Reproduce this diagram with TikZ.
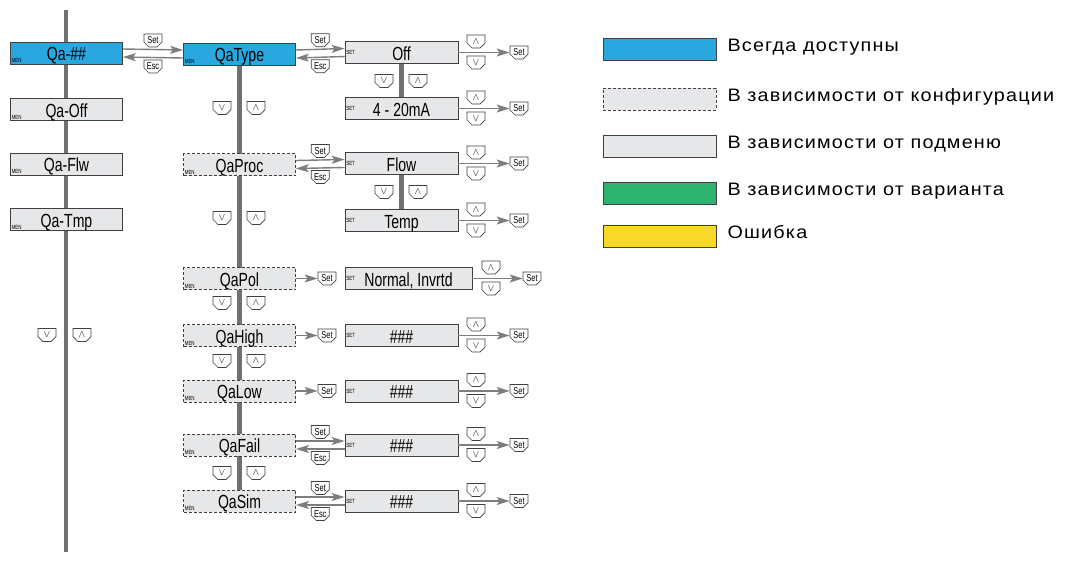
\documentclass[tikz,border=0pt]{standalone}
\usepackage{fontspec}
\setmainfont{Liberation Sans}
\newfontfamily\lcdfont[FakeStretch=0.74]{Liberation Sans}
\newfontfamily\legfont[FakeStretch=1.1,LetterSpace=6.5]{Liberation Sans}
\usetikzlibrary{arrows.meta,shapes.misc,positioning,backgrounds,calc}

\definecolor{qblue}{RGB}{41,168,224}
\definecolor{qgray}{RGB}{230,231,232}
\definecolor{qgreen}{RGB}{45,179,111}
\definecolor{qyellow}{RGB}{248,217,40}
\definecolor{qbar}{RGB}{112,113,117}
\definecolor{qline}{RGB}{64,64,66}
\definecolor{qarrow}{RGB}{125,125,128}

\begin{document}
\begin{tikzpicture}
        [x=1pt,y=-1pt,
         lcd/.style={draw=qline,fill=qgray,line width=0.8pt,minimum height=22pt,inner sep=0pt,
           text height=15pt,text depth=0pt,font=\lcdfont\fontsize{19}{19}\selectfont},
         tag/.style={font=\lcdfont\fontsize{6}{6}\selectfont,inner sep=1.5pt,text height=,text depth=},
         menu/.style={lcd,minimum width=112pt,label={[tag,anchor=south west]south west:MEN}},
         optional/.style={menu,dash pattern=on 3pt off 2pt},
         value/.style={lcd,minimum width=113pt,label={[tag,anchor=west]west:SET}},
         key/.style={draw=qline,fill=white,line width=0.7pt,chamfered rectangle,
           chamfered rectangle corners={south west,south east},chamfered rectangle sep=2.5pt,
           minimum width=18pt,minimum height=13pt,inner sep=0pt,
           font=\lcdfont\fontsize{10}{10}\selectfont},
         swatch/.style={draw=qline,line width=0.8pt,minimum width=113pt,minimum height=22pt},
         legtext/.style={inner sep=0pt,text height=12.5pt,text depth=7.5pt,
           font=\legfont\fontsize{18}{20}\selectfont},
         bar/.style={qbar,line width=4.5pt},
         link/.style={qarrow,line width=1.4pt,-{Stealth[length=13pt,width=8pt,inset=3pt]}}]
        \useasboundingbox (0,0) rectangle (1068,560);

        % left column
        \node[menu,fill=qblue] (qaall) at (66.5,53) {Qa-\#\#};
        \node[menu] (qaoff) at (66.5,109.5) {Qa-Off};
        \node[menu] (qaflw) at (66.5,164) {Qa-Flw};
        \node[menu] (qatmp) at (66.5,219.5) {Qa-Tmp};
        \coordinate (top) at (66,10);
        \coordinate (bottom) at (66,552);

        % middle column
        \node[menu,fill=qblue] (qatype) at (239.5,54) {QaType};
        \node[optional] (qaproc) at (239.5,164.5) {QaProc};
        \node[optional] (qapol) at (239.5,278.5) {QaPol};
        \node[optional] (qahigh) at (239.5,335.5) {QaHigh};
        \node[optional] (qalow) at (239.5,391) {QaLow};
        \node[optional] (qafail) at (239.5,445) {QaFail};
        \node[optional] (qasim) at (239.5,501) {QaSim};

        % values, each with its up/down keys and Set
        \foreach \v/\y/\t in {off/52.5/Off,ma/108.5/4 - 20mA,flow/163.5/Flow,temp/220.5/Temp,
                             high/335.5/\#\#\#,low/391/\#\#\#,fail/445/\#\#\#,sim/501/\#\#\#}
        {
          \node[value] (\v) at (401.5,\y) {\t};
          \node[key] (up\v) at (476,\y-11) {$\wedge$};
          \node[key] (dn\v) at (476,\y+10) {$\vee$};
          \node[key] (ok\v) at (519,\y) {Set};
          \draw[link] (\v.east) -- (ok\v.west);
        }
        \node[value,minimum width=127pt] (pol) at (408.5,278.5) {Normal, Invrtd};
        \node[key] (uppol) at (491,267.5) {$\wedge$};
        \node[key] (dnpol) at (491,288.5) {$\vee$};
        \node[key] (okpol) at (532,278.5) {Set};
        \draw[link] (pol.east) -- (okpol.west);

        % Set / Esc between levels
        \foreach \a/\b in {qaall/qatype,qatype/off,qaproc/flow,qafail/fail,qasim/sim}
        {
          \draw[link] ([yshift=4pt]\a.east) -- ([yshift=4pt]\b.west);
          \draw[link] ([yshift=-4pt]\b.west) -- ([yshift=-4pt]\a.east);
          \node[key] (set\a) at ($(\a.east)!0.5!(\b.west) + (0,-13)$) {Set};
          \node[key] (esc\a) at ($(\a.east)!0.5!(\b.west) + (0,13)$) {Esc};
        }

        % Set only
        \foreach \a in {qapol,qahigh,qalow}
        {
          \node[key] (set\a) at (327,0 |- \a) {Set};
          \draw[link] (\a.east) -- (set\a.west);
        }

        % scroll keys beside the bars
        \node[key] (dnall) at (47,335) {$\vee$};
        \node[key] (upall) at (82,335) {$\wedge$};
        \foreach \y in {108,218,303,361,473}
        {
          \node[key] (dn\y) at (222,\y) {$\vee$};
          \node[key] (up\y) at (256,\y) {$\wedge$};
        }
        \foreach \y in {81,192}
        {
          \node[key] (dn\y) at (384,\y) {$\vee$};
          \node[key] (up\y) at (418,\y) {$\wedge$};
        }

        \begin{scope}[on background layer]
          \draw[bar] (top) -- (bottom);
          \draw[bar] (qatype.south) -- (qasim.north);
          \draw[bar] (off.south) -- (ma.north);
          \draw[bar] (flow.south) -- (temp.north);
        \end{scope}

        % legend
        \node[swatch,fill=qblue] (sw1) at (659.5,49) {};
        \node[swatch,fill=qgray,dash pattern=on 3pt off 2pt] (sw2) at (659.5,99) {};
        \node[swatch,fill=qgray] (sw3) at (659.5,146) {};
        \node[swatch,fill=qgreen] (sw4) at (659.5,193) {};
        \node[swatch,fill=qyellow] (sw5) at (659.5,236) {};
        \node[legtext,right=11pt of sw1] (leg1) {Всегда доступны};
        \node[legtext,right=11pt of sw2] (leg2) {В зависимости от конфигурации};
        \node[legtext,right=11pt of sw3] (leg3) {В зависимости от подменю};
        \node[legtext,right=11pt of sw4] (leg4) {В зависимости от варианта};
        \node[legtext,right=11pt of sw5] (leg5) {Ошибка};
      \end{tikzpicture}
\end{document}
